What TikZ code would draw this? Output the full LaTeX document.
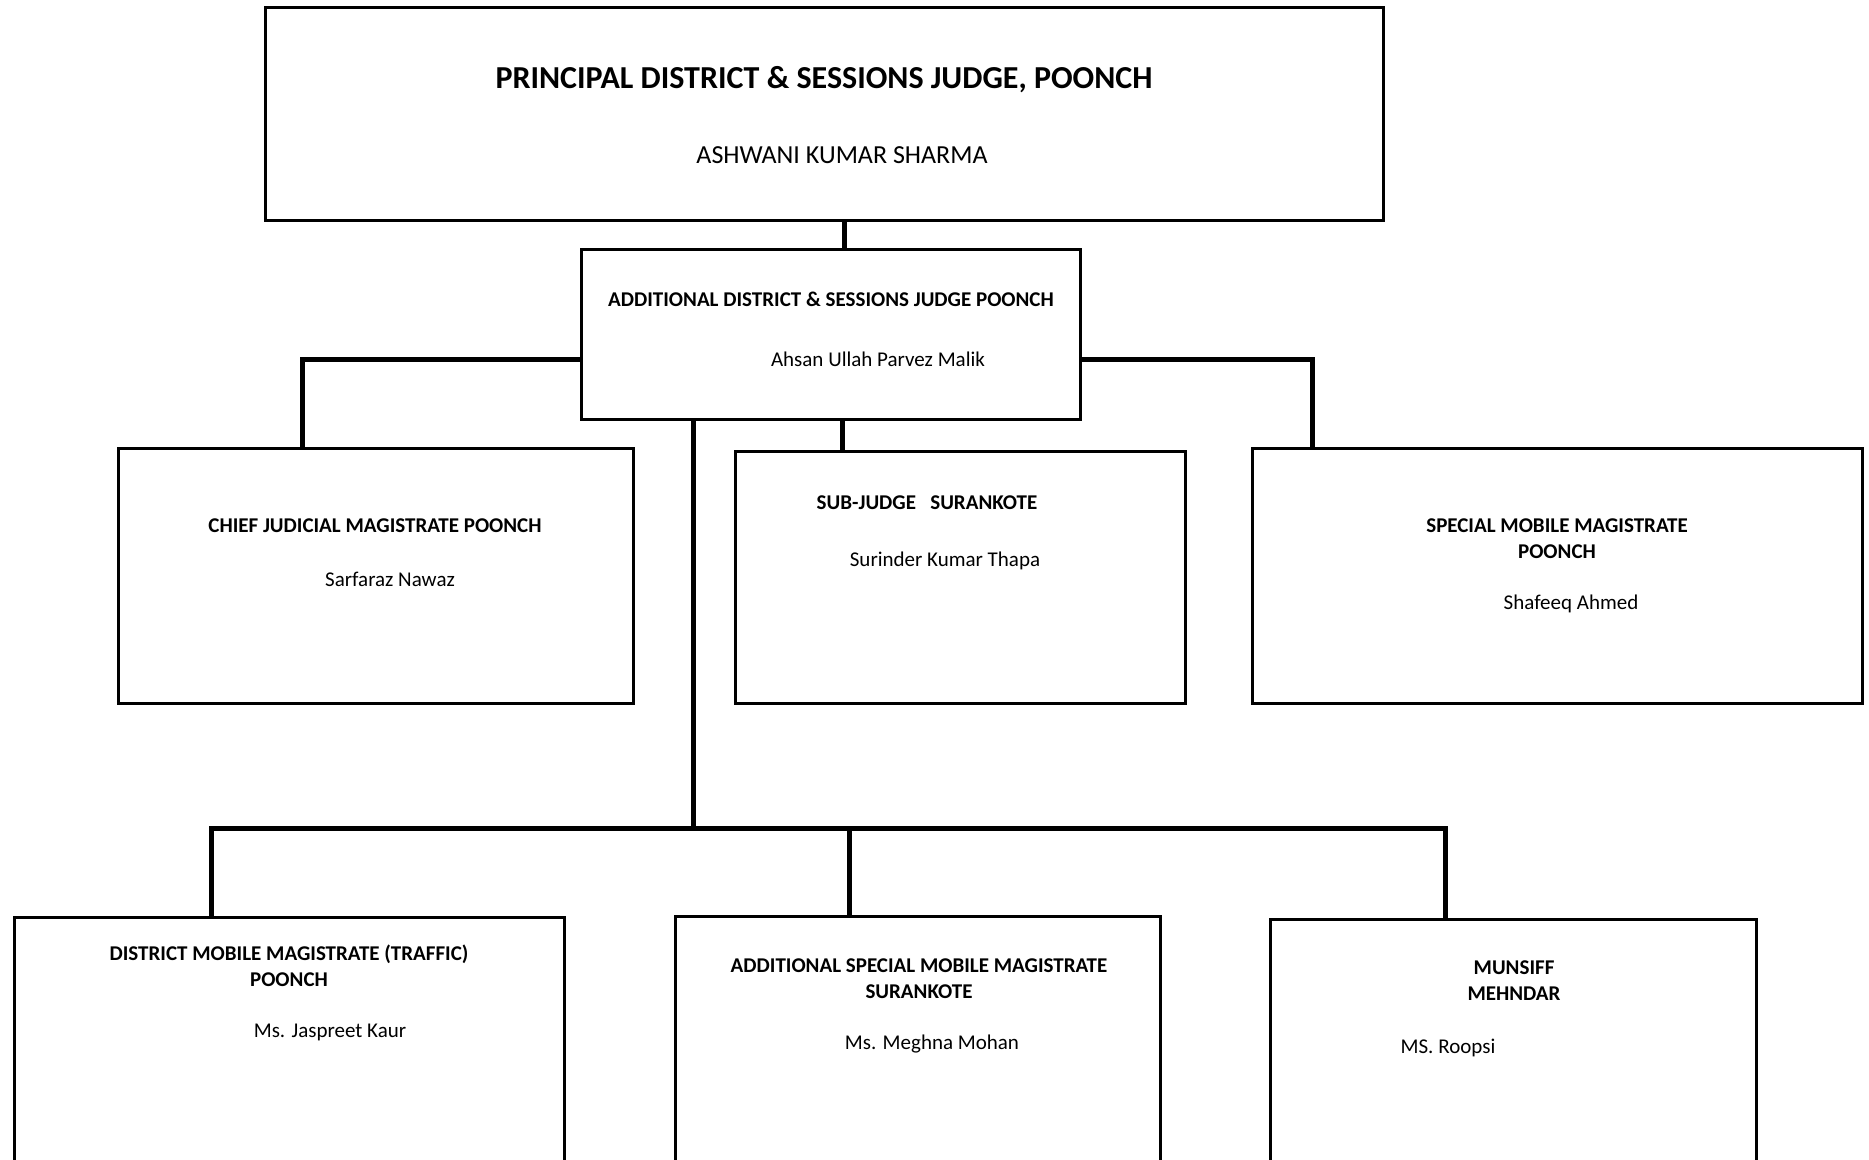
\documentclass[tikz,border=0pt]{standalone}
\usepackage{fontspec}
\setmainfont{Carlito}

\tikzset{
  office/.style={draw, rectangle, line width=1.5pt, inner sep=0pt},
  link/.style={line width=2.5pt},
  rank/.style={font=\bfseries\fontsize{10.5}{13}\selectfont, align=center, inner sep=0pt},
  holder/.style={font=\fontsize{10.5}{13}\selectfont, inner sep=0pt},
}

\begin{document}
\begin{tikzpicture}[x=0.5pt, y=-0.5pt] % one unit = one pixel of the chart

		\useasboundingbox (0,0) rectangle (1869,1160);
		\clip (0,0) rectangle (1869,1160);

		% Principal judge at the head
		\node[office, minimum width=559pt, minimum height=106.5pt] (pds) at (824,114.5) {};
		\node[rank, font=\bfseries\fontsize{16}{19}\selectfont] (pdsT) at (824,80) {PRINCIPAL DISTRICT \& SESSIONS JUDGE, POONCH};
		\node[holder, font=\fontsize{13}{16}\selectfont] (pdsN) at (842,155) {ASHWANI KUMAR SHARMA};

		% Additional judge
		\node[office, minimum width=249.5pt, minimum height=85pt] (adj) at (830.5,335) {};
		\node[rank] (adjT) at (831,299) {ADDITIONAL DISTRICT \& SESSIONS JUDGE POONCH};
		\node[holder] (adjN) at (878,359) {Ahsan Ullah Parvez Malik};

		% Second row
		\node[office, minimum width=257.5pt, minimum height=127pt] (cjm) at (375.5,576) {};
		\node[rank] (cjmT) at (375,526) {CHIEF JUDICIAL MAGISTRATE POONCH};
		\node[holder] (cjmN) at (390,579) {Sarfaraz Nawaz};

		\node[office, minimum width=225pt, minimum height=125.5pt] (sub) at (960,577.5) {};
		\node[rank] (subT) at (927,503) {SUB-JUDGE \ \ SURANKOTE};
		\node[holder] (subN) at (945,561) {Surinder Kumar Thapa};

		\node[office, minimum width=305pt, minimum height=127pt] (smm) at (1557,576) {};
		\node[rank] (smmT) at (1557,539) {SPECIAL MOBILE MAGISTRATE\\POONCH};
		\node[holder] (smmN) at (1571,604) {Shafeeq Ahmed};

		% Third row (runs off the page)
		\node[office, minimum width=275pt, minimum height=141.5pt] (dmm) at (289.5,1058.5) {};
		\node[rank] (dmmT) at (289,966) {DISTRICT MOBILE MAGISTRATE (TRAFFIC)\\POONCH};
		\node[holder] (dmmN) at (330,1032) {Ms. Jaspreet Kaur};

		\node[office, minimum width=242.5pt, minimum height=142pt] (asmm) at (917.5,1058) {};
		\node[rank] (asmmT) at (919,978.5) {ADDITIONAL SPECIAL MOBILE MAGISTRATE\\SURANKOTE};
		\node[holder] (asmmN) at (932,1044) {Ms. Meghna Mohan};

		\node[office, minimum width=243pt, minimum height=140.5pt] (mun) at (1513,1059.5) {};
		\node[rank] (munT) at (1514,981) {MUNSIFF\\MEHNDAR};
		\node[holder] (munN) at (1448,1048) {MS. Roopsi};

		% Bends and bus of the connectors
		\coordinate (top) at (844,235);
		\coordinate (lb) at (302,360);
		\coordinate (rb) at (1312,360);
		\coordinate (mid) at (842,435);
		\coordinate (busM) at (693,828);
		\coordinate (busL) at (211,828);
		\coordinate (busR) at (1445,828);
		\coordinate (busC) at (849,828);

		% Connectors
		\draw[link] (pds.south -| top) -- (adj.north -| top);
		\draw[link] (adj.west |- lb) -- (lb) -- (cjm.north -| lb);
		\draw[link] (adj.east |- rb) -- (rb) -- (smm.north -| rb);
		\draw[link] (adj.south -| mid) -- (sub.north -| mid);
		\draw[link] (adj.south -| busM) -- (busM);
		\draw[link] (dmm.north -| busL) -- (busL) -- (busR) -- (mun.north -| busR);
		\draw[link] (busC) -- (asmm.north -| busC);
	\end{tikzpicture}
\end{document}
